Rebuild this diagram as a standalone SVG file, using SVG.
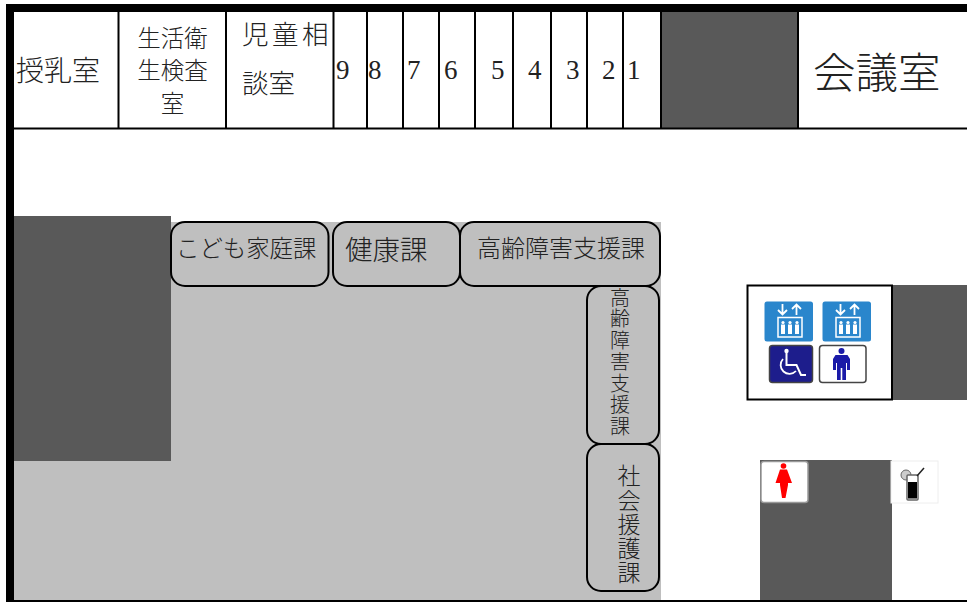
<svg xmlns="http://www.w3.org/2000/svg" width="967" height="602" viewBox="0 0 967 602">
<defs>
<g id="lift">
<rect class="e" x="0" y="0" width="48.500" height="40" rx="2.500"/>
<path class="a" d="M18 2.500V13M13.500 8.500L18 13L22.500 8.500M32 13.500V3M27.500 7.500L32 3L36.500 7.500"/>
<rect x="13.500" y="16" width="24" height="19.500" fill="none" stroke="#fff" stroke-width="1.500"/>
<g fill="#fff"><circle cx="18.500" cy="21" r="1.600"/><circle cx="25.500" cy="21" r="1.600"/><circle cx="32.500" cy="21" r="1.600"/>
<rect x="16.500" y="23" width="4" height="9.500"/><rect x="23.500" y="23" width="4" height="9.500"/><rect x="30.500" y="23" width="4" height="9.500"/></g>
</g>
</defs>
<style>
.t{font-family:"Noto Sans CJK JP","Noto Sans CJK SC",sans-serif;fill:#222;font-weight:300}
.v{writing-mode:vertical-rl}
.n{font-family:"Liberation Serif",serif;font-size:27px;fill:#222}
.w{stroke:#000;stroke-width:2;fill:none}
.b{fill:#bfbfbf;stroke:#000;stroke-width:2}
.d{fill:#595959}
.e{fill:#2a86cc}
.a{fill:none;stroke:#fff;stroke-width:1.800}
</style>
<rect width="967" height="602" fill="#fff"/>
<g id="floor">
<rect x="14" y="222" width="647" height="378" fill="#bfbfbf"/>
<rect class="d" x="14" y="216" width="157" height="245"/>
<rect class="d" x="661" y="12" width="137" height="116"/>
<rect class="d" x="892" y="285" width="75" height="115"/>
<rect class="d" x="760" y="460" width="132" height="140"/>
</g>
<g id="walls">
<rect x="6" y="4" width="961" height="8" fill="#000"/>
<rect x="6" y="4" width="8" height="598" fill="#000"/>
<rect x="6" y="600" width="961" height="2" fill="#000"/>
<path class="w" d="M14 128.500H967M118.500 12V128M226 12V128M333.500 12V128M367 12V128M403 12V128M439 12V128M475 12V128M513 12V128M551 12V128M587 12V128M623 12V128M661 12V128M798 12V128"/>
</g>
<g id="room-nursing"><text class="t" x="16" y="81" font-size="28">授乳室</text></g>
<g id="room-hygiene"><text class="t" font-size="23.500" text-anchor="middle"><tspan x="172.500" y="47">生活衛</tspan><tspan x="172.500" y="79">生検査</tspan><tspan x="172.500" y="112">室</tspan></text></g>
<g id="room-child"><text class="t" font-size="26.500"><tspan x="242" y="44" letter-spacing="3.500">児童相</tspan><tspan x="242" y="93">談室</tspan></text></g>
<g id="counter-9"><text class="n" x="336" y="79">9</text></g>
<g id="counter-8"><text class="n" x="368" y="79">8</text></g>
<g id="counter-7"><text class="n" x="407" y="79">7</text></g>
<g id="counter-6"><text class="n" x="444" y="79">6</text></g>
<g id="counter-5"><text class="n" x="491" y="79">5</text></g>
<g id="counter-4"><text class="n" x="528" y="79">4</text></g>
<g id="counter-3"><text class="n" x="566" y="79">3</text></g>
<g id="counter-2"><text class="n" x="602" y="79">2</text></g>
<g id="counter-1"><text class="n" x="627" y="79">1</text></g>
<g id="room-meeting"><text class="t" x="813" y="88" font-size="42.500">会議室</text></g>
<g id="desk-children"><rect class="b" x="171" y="222" width="157.500" height="64" rx="14"/><text class="t" x="176" y="257" font-size="23.400">こども家庭課</text></g>
<g id="desk-health"><rect class="b" x="333" y="222" width="127" height="64" rx="14"/><text class="t" x="345" y="260" font-size="27.500">健康課</text></g>
<g id="desk-elderly"><rect class="b" x="460" y="222" width="200" height="64" rx="14"/><text class="t" x="477" y="257" font-size="24">高齢障害支援課</text></g>
<g id="desk-elderly-v"><rect class="b" x="587" y="286" width="72" height="158" rx="14"/><text class="t v" x="620" y="287" font-size="20" letter-spacing="1.500">高齢障害支援課</text></g>
<g id="desk-social"><rect class="b" x="587" y="444" width="72" height="147" rx="14"/><text class="t v" x="629" y="464" font-size="23" letter-spacing="1.300">社会援護課</text></g>
<g id="elevator-hall">
<rect x="747.500" y="285.500" width="144.500" height="114" fill="#fff" stroke="#000" stroke-width="2"/>
<g id="elevator-1"><use href="#lift" x="764.500" y="301.500"/></g>
<g id="elevator-2"><use href="#lift" x="822.500" y="301.500"/></g>
<g id="accessible"><rect x="769.500" y="345.500" width="43" height="37" rx="3" fill="#1d1d8c" stroke="#444" stroke-width="1.500"/><circle cx="786.500" cy="351" r="2.200" fill="#fff"/><path d="M786.500 353V365H796.500L801 375H806" fill="none" stroke="#fff" stroke-width="2"/><path d="M783 359A8.500 8.500 0 1 0 796 371" fill="none" stroke="#fff" stroke-width="1.800"/></g>
<g id="men"><rect x="819.500" y="345.500" width="46.500" height="37" rx="3" fill="#fff" stroke="#444" stroke-width="1.500"/><circle cx="841.500" cy="351" r="3" fill="#1a1aa8"/><path d="M835.500 355H847.500L850 359V370H847V363H846V380H842.300V368H840.700V380H837V363H836V370H833V359Z" fill="#1a1aa8"/></g>
</g>
<g id="women"><rect x="761" y="461.500" width="47" height="41" rx="3" fill="#fff" stroke="#999" stroke-width="1.500"/><circle cx="783.500" cy="466" r="2.800" fill="#f00"/><path d="M780 469.500H787L792 483H788V485L785.500 498H782L780 485V483H775.500Z" fill="#f00"/></g>
<g id="drink"><rect x="891" y="461" width="47" height="42" fill="#fff" stroke="#eee"/><circle cx="906" cy="475" r="5" fill="#ccc" stroke="#666"/><rect x="907" y="475" width="11" height="25" rx="1" fill="#fff" stroke="#666" stroke-width="1.500"/><rect x="908" y="482" width="9" height="16.500" fill="#000"/><path d="M917 476L924 468" stroke="#222" stroke-width="1.500"/></g>
</svg>
